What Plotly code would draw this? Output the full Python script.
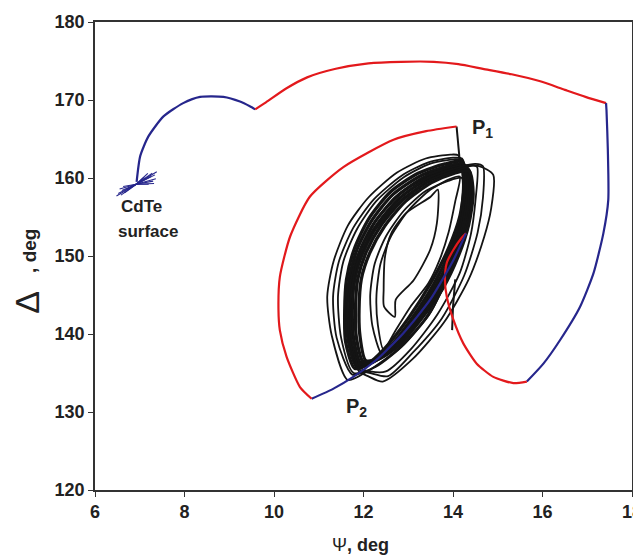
import plotly.graph_objects as go

# ---------------- data (Psi, Delta in degrees) ----------------
blue_start_psi = [6.93, 7.01, 7.19, 7.53, 7.97, 8.35, 8.87, 9.24, 9.46, 9.58]
blue_start_delta = [159.5, 162.8, 165.3, 167.9, 169.6, 170.4, 170.4, 169.8, 169.2, 168.8]

red_top_psi = [9.58, 9.82, 10.28, 10.74, 11.38, 12.11, 12.84, 13.57, 14.12, 14.67, 15.31, 15.95, 16.50, 16.96, 17.42]
red_top_delta = [168.8, 169.7, 171.5, 172.9, 174.0, 174.7, 174.9, 174.9, 174.6, 174.0, 173.3, 172.4, 171.3, 170.4, 169.6]

blue_right_psi = [17.42, 17.43, 17.46, 17.47, 17.36, 17.14, 16.84, 16.39, 16.02, 15.65]
blue_right_delta = [169.6, 168.7, 163.6, 157.2, 152.9, 147.8, 143.5, 139.2, 136.2, 133.9]

red_low_psi = [15.65, 15.35, 14.90, 14.53, 14.23, 14.01, 13.86, 13.82, 13.86, 14.01, 14.19, 14.29]
red_low_delta = [133.9, 133.7, 134.5, 136.2, 138.8, 141.8, 144.8, 146.9, 149.1, 150.8, 152.3, 152.9]

blue_diag_psi = [14.29, 14.01, 13.49, 12.89, 12.29, 11.77, 11.33, 10.84]
blue_diag_delta = [152.9, 149.5, 144.4, 140.1, 136.7, 134.5, 133.0, 131.7]

red_left_psi = [10.84, 10.58, 10.28, 10.13, 10.10, 10.13, 10.36, 10.80, 11.55, 12.67, 13.40, 14.08]
red_left_delta = [131.7, 133.2, 137.1, 140.5, 143.1, 147.3, 152.5, 157.6, 161.4, 164.9, 166.0, 166.6]

p1_drop_psi = [14.08, 14.12, 14.16]
p1_drop_delta = [166.6, 164.0, 161.6]

inner_drop_psi = [14.05, 14.0, 13.98]
inner_drop_delta = [147.0, 143.5, 140.5]

# CdTe surface burst: centre + ray end points
burst_center = (6.92, 159.2)
burst_end_psi = [6.48, 6.52, 6.58, 6.60, 6.66, 6.72, 6.55, 6.63, 7.38, 7.34, 7.36, 7.30, 7.25, 7.18, 7.10, 7.32, 7.20, 7.28]
burst_end_delta = [157.7, 158.0, 157.8, 158.4, 158.1, 158.6, 158.6, 158.9, 160.8, 160.4, 159.9, 159.6, 160.2, 160.6, 160.1, 159.3, 159.2, 160.6]

# black measurement loops (each a closed path)
black_loops_psi = [
    [11.65, 11.29, 11.19, 11.33, 11.65, 12.11, 12.75, 13.39, 13.94, 14.12, 14.22, 14.12, 13.85, 13.39, 12.75, 12.11, 11.65],
    [11.75, 11.40, 11.32, 11.45, 11.77, 12.22, 12.85, 13.45, 14.00, 14.20, 14.28, 14.18, 13.92, 13.47, 12.85, 12.20, 11.75],
    [11.78, 11.50, 11.43, 11.55, 11.85, 12.28, 12.90, 13.48, 14.02, 14.22, 14.28, 14.18, 13.92, 13.50, 12.90, 12.28, 11.78],
    [11.80, 11.60, 11.58, 11.62, 11.80, 12.12, 12.60, 13.22, 13.82, 14.20, 14.25, 14.15, 13.90, 13.50, 13.00, 12.45, 12.05, 11.80],
    [11.85, 11.66, 11.63, 11.68, 11.86, 12.19, 12.66, 13.28, 13.86, 14.24, 14.30, 14.20, 13.95, 13.57, 13.08, 12.55, 12.12, 11.85],
    [11.90, 11.72, 11.69, 11.74, 11.93, 12.26, 12.74, 13.34, 13.90, 14.28, 14.34, 14.24, 14.00, 13.62, 13.15, 12.62, 12.18, 11.90],
    [11.95, 11.78, 11.75, 11.80, 12.00, 12.33, 12.81, 13.40, 13.94, 14.31, 14.38, 14.28, 14.04, 13.67, 13.20, 12.68, 12.24, 11.95],
    [12.00, 11.84, 11.82, 11.87, 12.06, 12.40, 12.88, 13.46, 13.98, 14.34, 14.42, 14.32, 14.08, 13.72, 13.25, 12.74, 12.30, 12.00],
    [12.05, 11.92, 11.90, 11.95, 12.14, 12.47, 12.94, 13.52, 14.02, 14.36, 14.45, 14.35, 14.12, 13.77, 13.30, 12.80, 12.38, 12.05],
    [11.90, 11.70, 11.65, 11.80, 12.15, 12.70, 13.40, 14.10, 14.60, 14.90, 14.85, 14.70, 14.35, 13.80, 13.10, 12.43, 12.10, 11.90],
    [11.92, 11.74, 11.70, 11.85, 12.20, 12.75, 13.45, 14.15, 14.50, 14.67, 14.67, 14.55, 14.25, 13.75, 13.10, 12.55, 12.15, 11.92],
    [11.95, 11.78, 11.75, 11.90, 12.25, 12.80, 13.50, 14.20, 14.45, 14.54, 14.50, 14.40, 14.15, 13.65, 13.05, 12.50, 12.15, 11.95],
    [12.40, 12.20, 12.15, 12.25, 12.50, 12.90, 13.38, 13.88, 14.20, 14.25, 14.15, 13.90, 13.55, 13.10, 12.75, 12.52, 12.40],
    [12.45, 12.32, 12.29, 12.38, 12.62, 13.00, 13.45, 13.90, 14.15, 14.05, 13.90, 13.70, 13.45, 13.05, 12.70, 12.45],
    [12.70, 12.46, 12.45, 12.48, 12.62, 12.95, 13.50, 13.66, 13.64, 13.49, 13.12, 12.72, 12.70],
]
black_loops_delta = [
    [134.1, 139.8, 144.8, 149.3, 153.9, 157.5, 160.7, 162.5, 163.0, 162.9, 159.3, 153.4, 147.5, 142.1, 138.0, 135.3, 134.1],
    [134.8, 139.5, 144.8, 149.3, 153.6, 157.2, 160.3, 162.0, 162.6, 162.5, 159.2, 153.6, 147.8, 142.5, 138.4, 135.6, 134.8],
    [135.0, 139.5, 144.8, 149.3, 153.4, 157.0, 160.1, 161.8, 162.4, 162.3, 159.0, 153.8, 148.0, 142.8, 138.6, 135.8, 135.0],
    [135.6, 139.0, 143.0, 147.0, 151.0, 154.8, 158.2, 160.6, 161.8, 162.1, 159.0, 155.0, 151.0, 146.5, 142.0, 138.0, 136.0, 135.6],
    [135.8, 139.1, 143.0, 147.0, 150.9, 154.6, 157.9, 160.3, 161.5, 161.8, 158.8, 154.8, 150.8, 146.4, 142.0, 138.1, 136.1, 135.8],
    [136.0, 139.2, 143.0, 147.0, 150.8, 154.4, 157.6, 160.0, 161.2, 161.5, 158.5, 154.5, 150.5, 146.2, 142.0, 138.2, 136.3, 136.0],
    [136.2, 139.4, 143.0, 147.0, 150.7, 154.2, 157.4, 159.8, 161.0, 161.3, 158.3, 154.3, 150.3, 146.1, 142.0, 138.3, 136.5, 136.2],
    [136.4, 139.6, 143.0, 147.0, 150.5, 154.0, 157.2, 159.6, 160.8, 161.1, 158.1, 154.1, 150.1, 145.9, 142.0, 138.5, 136.7, 136.4],
    [136.6, 139.8, 143.0, 147.0, 150.4, 153.8, 157.0, 159.4, 160.6, 160.9, 158.0, 154.0, 150.0, 145.8, 142.0, 138.6, 136.9, 136.6],
    [135.2, 139.0, 144.0, 149.0, 153.5, 157.5, 160.3, 161.6, 161.5, 160.4, 156.0, 152.5, 147.0, 141.5, 136.8, 133.9, 134.6, 135.2],
    [135.4, 139.2, 144.0, 149.0, 153.3, 157.2, 160.0, 161.4, 161.8, 161.5, 157.5, 153.0, 147.5, 142.0, 137.6, 134.6, 135.0, 135.4],
    [135.6, 139.4, 144.0, 149.0, 153.2, 157.0, 159.8, 161.2, 161.6, 161.4, 157.0, 152.8, 147.8, 142.5, 138.0, 135.2, 135.2, 135.6],
    [137.5, 141.0, 145.0, 149.0, 152.5, 155.8, 158.3, 159.6, 160.0, 157.5, 153.5, 149.5, 145.5, 141.5, 138.8, 137.6, 137.5],
    [138.0, 141.2, 145.0, 149.0, 152.6, 155.8, 158.3, 159.8, 160.2, 157.0, 153.0, 149.5, 146.5, 143.5, 140.3, 138.0],
    [142.2, 143.5, 145.6, 149.9, 152.9, 155.5, 157.6, 158.5, 154.2, 150.8, 146.9, 144.4, 142.2],
]

x_tick_vals = [6, 8, 10, 12, 14, 16, 18]
y_tick_vals = [120, 130, 140, 150, 160, 170, 180]

# ---------------- styling ----------------
RED = "#e3191c"
BLUE = "#26268c"
BLACK = "#141414"
TXT = "#222222"
FONT = "Arial, Liberation Sans, sans-serif"

fig = go.Figure()

for i, (lx, ly) in enumerate(zip(black_loops_psi, black_loops_delta)):
    w = 3.3 if 3 <= i <= 8 else 1.8
    fig.add_trace(go.Scatter(x=lx, y=ly, mode="lines",
                             line=dict(color=BLACK, width=w, shape="spline", smoothing=0.7),
                             hoverinfo="skip", showlegend=False))

fig.add_trace(go.Scatter(x=inner_drop_psi, y=inner_drop_delta, mode="lines",
                         line=dict(color=BLACK, width=2), showlegend=False))
fig.add_trace(go.Scatter(x=p1_drop_psi, y=p1_drop_delta, mode="lines",
                         line=dict(color=BLACK, width=2), showlegend=False))

# CdTe burst
bx, by = [], []
for ex, ey in zip(burst_end_psi, burst_end_delta):
    bx += [burst_center[0], ex, None]
    by += [burst_center[1], ey, None]
fig.add_trace(go.Scatter(x=bx, y=by, mode="lines",
                         line=dict(color=BLUE, width=1.1), showlegend=False))

def curve(x, y, color):
    fig.add_trace(go.Scatter(x=x, y=y, mode="lines",
                             line=dict(color=color, width=2.2, shape="spline", smoothing=0.6),
                             showlegend=False))

curve(blue_start_psi, blue_start_delta, BLUE)
curve(red_top_psi, red_top_delta, RED)
curve(blue_right_psi, blue_right_delta, BLUE)
curve(red_low_psi, red_low_delta, RED)
curve(blue_diag_psi, blue_diag_delta, BLUE)
curve(red_left_psi, red_left_delta, RED)

ann_font = dict(family=FONT, size=17, color=TXT)
fig.add_annotation(x=7.05, y=156.4, text="<b>CdTe</b>", showarrow=False, font=ann_font)
fig.add_annotation(x=7.18, y=153.1, text="<b>surface</b>", showarrow=False, font=ann_font)
fig.add_annotation(x=14.67, y=166.3, text="<b>P<sub>1</sub></b>", showarrow=False,
                   font=dict(family=FONT, size=20, color=TXT))
fig.add_annotation(x=11.85, y=130.6, text="<b>P<sub>2</sub></b>", showarrow=False,
                   font=dict(family=FONT, size=20, color=TXT))

# axis titles
fig.add_annotation(xref="paper", yref="paper", x=0.4935, y=-0.1175,
                   xanchor="center", yanchor="middle",
                   text="Ψ<b>, deg</b>", showarrow=False,
                   font=dict(family=FONT, size=18, color=TXT))
fig.add_annotation(xref="paper", yref="paper", x=-0.127, y=0.402, textangle=-90,
                   xanchor="center", yanchor="middle",
                   text="Δ", showarrow=False,
                   font=dict(family=FONT, size=34, color=TXT))
fig.add_annotation(xref="paper", yref="paper", x=-0.121, y=0.511, textangle=-90,
                   xanchor="center", yanchor="middle",
                   text="<b>, deg</b>", showarrow=False,
                   font=dict(family=FONT, size=19, color=TXT))

axis_common = dict(showgrid=False, zeroline=False, showline=True, linecolor="#333333",
                   linewidth=1.5, mirror=True, ticks="outside", ticklen=5, tickwidth=1.2,
                   tickcolor="#333333", automargin=False, ticklabeloverflow="allow",
                   tickfont=dict(family=FONT, size=18, color=TXT))

# the page body adds an 8 px offset, so the figure is sized to fill the rest of the window
fig.update_layout(
    width=633, height=548,
    margin=dict(l=87, r=9, t=14, b=66),
    paper_bgcolor="white", plot_bgcolor="white",
    xaxis=dict(range=[6, 18], tickvals=x_tick_vals,
               ticktext=[f"<b>{v}</b>" for v in x_tick_vals],
               **axis_common),
    yaxis=dict(range=[120, 180], tickvals=y_tick_vals,
               ticktext=[f"<b>{v}</b>" for v in y_tick_vals],
               **axis_common),
)

fig.write_html("out.html")
